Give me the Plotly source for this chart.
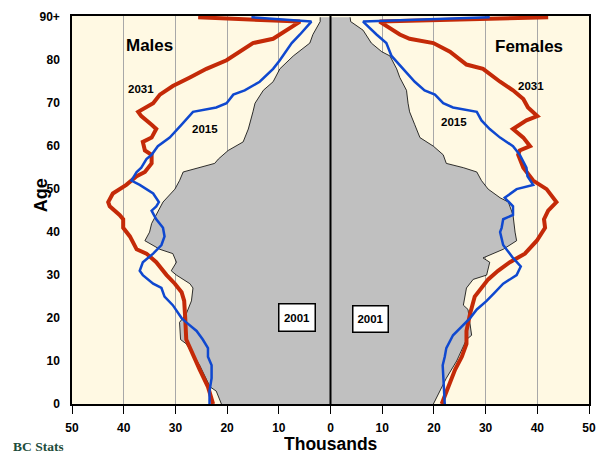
import plotly.graph_objects as go

# ---------------- data (thousands of persons, by age) ----------------
# Males 2001 (grey area)
m2001_age = [0, 3, 4, 9, 14, 15, 19, 21, 24, 27, 28, 30, 31, 33, 35, 36, 38, 40, 42, 44,
             47, 50, 52, 54, 55, 56, 57, 59, 61, 64, 68, 70, 73, 75, 78, 81, 84, 86, 89, 90]
m2001_val = [21.1, 22.1, 23.3, 25.3, 27.9, 29.0, 29.2, 27.9, 26.9, 26.6, 27.2, 29.8, 30.8, 29.8,
             30.5, 33.0, 35.9, 35.0, 34.6, 33.7, 32.4, 30.1, 29.2, 28.5, 25.3, 22.4, 21.7, 19.8,
             16.9, 15.9, 15.0, 14.6, 13.0, 11.1, 9.8, 7.2, 4.0, 3.4, 2.0, 2.0]

# Males 2015 (blue)
m2015_age = [0, 3, 6, 9, 11, 13, 15, 17, 19, 20, 23, 25, 27, 28, 30, 31, 33, 35, 37, 39, 41,
             43, 45, 46, 47, 49, 51, 52, 54, 55, 57, 58, 60, 62, 65, 67, 68, 69, 70, 72, 73,
             75, 78, 80, 84, 86, 89, 90]
m2015_val = [23.4, 23.4, 23.0, 23.0, 23.7, 23.7, 24.7, 25.9, 27.9, 28.8, 30.5, 32.1, 32.7, 34.3,
             36.3, 36.9, 36.3, 34.3, 32.7, 32.1, 32.4, 33.7, 34.6, 33.7, 33.2, 34.3, 36.9, 38.5,
             37.5, 36.6, 35.6, 34.6, 33.4, 31.1, 28.8, 27.4, 26.6, 22.1, 20.1, 18.8, 16.6, 13.7,
             11.1, 9.8, 7.5, 5.9, 3.7, 15.3]

# Males 2031 (red)
m2031_age = [0, 4, 8, 12, 15, 20, 24, 26, 28, 30, 33, 35, 36, 39, 41, 43, 44, 46, 47, 49, 51,
             53, 54, 56, 58, 59, 61, 62, 64, 65, 67, 68, 69, 70, 72, 74, 76, 78, 80, 82, 84,
             85, 87, 89, 90]
m2031_val = [22.7, 23.7, 25.3, 26.9, 27.9, 28.1, 28.3, 28.8, 30.1, 31.7, 33.7, 35.6, 37.5, 38.8,
             40.1, 40.1, 40.8, 42.7, 43.0, 42.1, 39.5, 37.5, 35.9, 34.6, 34.6, 35.9, 36.3, 34.6,
             33.7, 34.6, 36.6, 37.2, 35.6, 34.3, 33.0, 30.5, 27.2, 24.0, 20.1, 17.6, 15.0, 11.1,
             8.5, 5.9, 25.6]

# Females 2001 (grey area)
f2001_age = [0, 3, 6, 10, 15, 16, 19, 22, 23, 27, 29, 30, 33, 34, 36, 38, 40, 42, 44, 47, 48,
             50, 52, 54, 55, 56, 58, 60, 62, 65, 68, 70, 73, 76, 78, 81, 82, 84, 87, 89, 90]
f2001_val = [19.9, 21.1, 22.4, 24.4, 26.3, 27.3, 27.0, 26.6, 25.7, 26.3, 27.6, 30.2, 30.8, 29.5,
             33.4, 36.0, 35.7, 35.5, 35.3, 34.4, 32.8, 30.5, 29.2, 28.3, 25.7, 22.4, 21.8, 19.9,
             17.3, 16.3, 15.3, 15.0, 14.7, 13.4, 12.8, 11.5, 9.9, 7.9, 6.3, 3.9, 3.8]

# Females 2015 (blue)
f2015_age = [0, 6, 9, 11, 13, 16, 18, 20, 22, 24, 26, 28, 30, 32, 34, 37, 40, 41, 43, 44, 46,
             48, 50, 51, 53, 55, 58, 60, 62, 64, 66, 68, 69, 70, 72, 73, 75, 78, 81, 84, 86,
             89, 90]
f2015_val = [22.1, 21.9, 21.7, 22.1, 22.4, 23.7, 25.4, 27.0, 28.3, 30.2, 31.8, 33.4, 36.0, 36.8,
             35.3, 33.4, 32.8, 33.1, 33.4, 35.3, 35.3, 33.7, 36.0, 39.2, 38.1, 37.9, 36.6, 35.3,
             32.8, 30.8, 29.2, 28.3, 23.7, 21.8, 20.2, 18.2, 16.3, 14.0, 11.8, 10.8, 8.9, 6.3,
             30.8]

# Females 2031 (red)
f2031_age = [0, 4, 8, 11, 14, 17, 21, 25, 27, 29, 31, 33, 35, 38, 41, 43, 45, 47, 50, 52, 55,
             58, 59, 60, 62, 64, 66, 67, 69, 71, 73, 75, 78, 79, 82, 84, 85, 86, 89, 90]
f2031_val = [21.5, 22.8, 24.1, 25.4, 26.3, 26.3, 27.0, 27.9, 29.2, 30.5, 32.4, 34.7, 37.6, 39.9,
             41.5, 41.3, 42.1, 43.7, 41.8, 39.2, 37.3, 36.3, 36.6, 38.6, 37.3, 35.3, 37.9, 40.0,
             38.2, 37.3, 35.3, 32.8, 29.5, 26.3, 23.1, 19.9, 15.3, 13.4, 9.5, 42.1]

x_tick_vals = [-50, -40, -30, -20, -10, 0, 10, 20, 30, 40, 50]
x_tick_text = ["50", "40", "30", "20", "10", "0", "10", "20", "30", "40", "50"]
y_tick_vals = [0, 10, 20, 30, 40, 50, 60, 70, 80, 90]
y_tick_text = ["0", "10", "20", "30", "40", "50", "60", "70", "80", "90+"]

# ---------------- styles ----------------
GREY = "#C0C0C0"
RED = "#C42A08"
BLUE = "#0F48CF"
CREAM = "#FFF9E3"
FONT = "Liberation Sans, Arial, sans-serif"

fig = go.Figure()

def neg(v):
    return [-a for a in v]

# grey 2001 areas
fig.add_trace(go.Scatter(x=neg(m2001_val), y=m2001_age, mode="lines", fill="tozerox",
                         fillcolor=GREY, line=dict(color="black", width=0.8)))
fig.add_trace(go.Scatter(x=f2001_val, y=f2001_age, mode="lines", fill="tozerox",
                         fillcolor=GREY, line=dict(color="black", width=0.8)))
# 2031 red
fig.add_trace(go.Scatter(x=neg(m2031_val), y=m2031_age, mode="lines",
                         line=dict(color=RED, width=4)))
fig.add_trace(go.Scatter(x=f2031_val, y=f2031_age, mode="lines",
                         line=dict(color=RED, width=4)))
# 2015 blue
fig.add_trace(go.Scatter(x=neg(m2015_val), y=m2015_age, mode="lines",
                         line=dict(color=BLUE, width=2.5)))
fig.add_trace(go.Scatter(x=f2015_val, y=f2015_age, mode="lines",
                         line=dict(color=BLUE, width=2.5)))

# centre line
fig.add_shape(type="line", x0=0, x1=0, y0=0, y1=1, xref="x", yref="paper",
              line=dict(color="black", width=2), layer="above")

ann = []
def label(x, y, text, size, **kw):
    d = dict(x=x, y=y, xref="x", yref="y", text=text, showarrow=False,
             font=dict(family=FONT, size=size, color="black", weight="bold"))
    d.update(kw)
    ann.append(d)

label(-35.0, 83.5, "Males", 17)
label(38.4, 83.1, "Females", 17)
label(-36.6, 73.4, "2031", 11.5)
label(38.8, 74.0, "2031", 11.5)
label(-24.3, 63.9, "2015", 11.5)
label(23.8, 65.6, "2015", 11.5)
label(-6.5, 20.2, "2001", 11.5, bgcolor="white", bordercolor="black", borderwidth=1.5,
      borderpad=0, width=35, height=26)
label(7.8, 19.8, "2001", 11.5, bgcolor="white", bordercolor="black", borderwidth=1.5,
      borderpad=0, width=34, height=25)

ann.append(dict(x=0, y=48.6, xref="paper", yref="y", xshift=-31, text="Age", textangle=-90,
                showarrow=False, xanchor="center", yanchor="middle",
                font=dict(family=FONT, size=18, color="black", weight="bold")))
ann.append(dict(x=0, y=0, xref="x", yref="paper", yshift=-39.5, text="Thousands",
                showarrow=False, xanchor="center", yanchor="middle", height=17, borderpad=0,
                font=dict(family=FONT, size=17.5, color="black", weight="bold")))
ann.append(dict(x=0, y=0, xref="paper", yref="paper", xshift=-34, yshift=-41.5, text="BC Stats",
                showarrow=False, xanchor="center", yanchor="middle", height=12, borderpad=0,
                font=dict(family="Liberation Serif, Times New Roman, serif", size=13.5,
                          color="#1E4D3C", weight="bold")))

fig.update_layout(
    width=599, height=452,
    margin=dict(l=72, r=10, t=16, b=48),
    paper_bgcolor="white", plot_bgcolor=CREAM,
    showlegend=False,
    annotations=ann,
    xaxis=dict(range=[-50, 50], tickvals=x_tick_vals, ticktext=x_tick_text,
               automargin=False,
               showgrid=True, gridcolor="#A8A8A8", gridwidth=1, zeroline=False,
               showline=True, linecolor="black", linewidth=1.5, mirror=True,
               ticks="outside", ticklen=8, tickcolor="black", tickwidth=1.2,
               ticklabelstandoff=4,
               tickfont=dict(family=FONT, size=12, color="black", weight="bold")),
    yaxis=dict(range=[0, 90.3], tickvals=y_tick_vals, ticktext=y_tick_text,
               automargin=False,
               showgrid=False, zeroline=False,
               showline=True, linecolor="black", linewidth=1.5, mirror=True,
               ticks="", ticklabelstandoff=8,
               tickfont=dict(family=FONT, size=12, color="black", weight="bold")),
)

fig.write_html("out.html", config={"displayModeBar": False},
               post_script="document.body.style.margin='0';document.body.style.overflow='hidden';")
